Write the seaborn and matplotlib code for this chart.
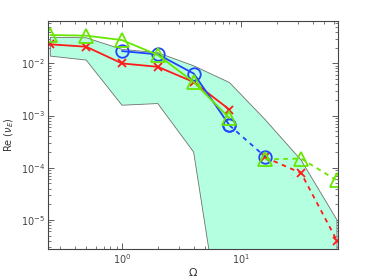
import matplotlib
matplotlib.use("Agg")
import matplotlib.pyplot as plt
import seaborn as sns
import numpy as np

# Data
omega = [0.25, 0.5, 1, 2, 4, 8, 16, 32, 64]
red_vals = [0.0232, 0.0209, 0.0100, 0.0086, 0.0044, 0.0013, 1.58e-4, 7.9e-5, 4.0e-6]
blue_omega = [1, 2, 4, 8, 16]
blue_vals = [0.0172, 0.0149, 0.0064, 6.5e-4, 1.62e-4]
green_vals = [0.035, 0.034, 0.028, 0.0145, 0.0044, 8.9e-4, 1.45e-4, 1.5e-4, 5.7e-5]
band_upper = [0.0317, 0.0310, 0.0186, 0.0160, 0.0090, 0.0043, 8.3e-4, 1.4e-4, 1.0e-5]
band_lower = [0.0138, 0.0116, 0.00158, 0.0017, 2.0e-4, 8e-9, 1e-9, 1e-9, 1e-9]

sns.set_style("ticks")
fig = plt.figure(figsize=(3.74, 2.8), dpi=100)
ax = fig.add_axes([48/374, 31/280, 290/374, 228/280])
ax.set_xscale("log")
ax.set_yscale("log")

ax.fill_between(omega, band_lower, band_upper, facecolor="#b3ffe0", edgecolor="#707070", linewidth=0.6)

red = "#ff1a1a"
blue = "#2244ff"
green = "#66e600"
lw = 1.3
dash = (0, (2.5, 2.5))

def seg(x, y, color, marker, ms, ls="-"):
    sns.lineplot(x=x, y=y, ax=ax, color=color, lw=lw, ls=ls, marker=marker, ms=ms,
                 mfc="none", mec=color, mew=1.3)

seg(omega[:6], red_vals[:6], red, "x", 6)
seg(omega[6:], red_vals[6:], red, "x", 6, dash)
seg(blue_omega[:4], blue_vals[:4], blue, "o", 9)
seg(blue_omega[3:], blue_vals[3:], blue, "o", 9, dash)
seg(omega[:6], green_vals[:6], green, "^", 10)
seg(omega[6:], green_vals[6:], green, "^", 10, dash)

ax.set_xlim(0.239, 65.3)
ax.set_ylim(2.77e-6, 0.065)

for s in ax.spines.values():
    s.set_visible(True)
    s.set_color("#444444")
    s.set_linewidth(0.8)
ax.tick_params(which="both", direction="in", top=True, right=True, colors="#444444", labelcolor="#444444", labelsize=7)
ax.tick_params(which="major", length=4, width=0.6, pad=2)
ax.tick_params(which="minor", length=2, width=0.5)

ax.set_xlabel(r"$\Omega$", fontsize=8, color="#333333", labelpad=0)
ax.set_ylabel(r"Re ($\nu_E$)", fontsize=7, color="#333333", labelpad=2)
ax.xaxis.set_label_coords(0.5, -0.075)
ax.yaxis.set_label_coords(-0.112, 0.5)

fig.savefig("out.png", dpi=100)
